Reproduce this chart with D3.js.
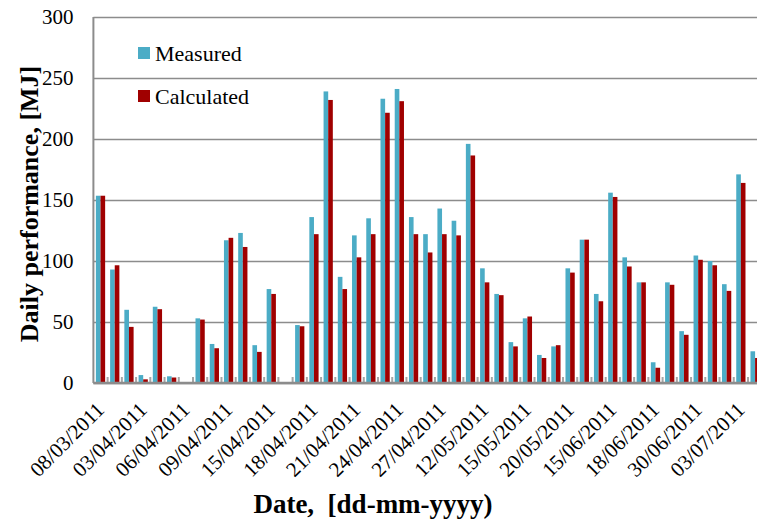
<!DOCTYPE html>
<html>
<head>
<meta charset="utf-8">
<script src="https://cdn.jsdelivr.net/npm/d3@7"></script>
<style>
  body { margin: 0; background: #fff; }
  text { font-family: "Liberation Serif", "Times New Roman", serif; fill: #000; }
</style>
</head>
<body>
<div id="chart"></div>
<script>
var measured = [153.5, 93, 60, 6.5, 62.5, 5.5, 0, 53, 32, 117, 123, 31, 77, 0, 47.5, 136, 239, 87, 121, 135, 233, 241, 136, 122, 143, 133, 196, 94, 73, 33.5, 53, 23, 30, 94, 117.5, 73, 156, 103, 82.5, 17, 82.5, 42.5, 104.5, 100, 81, 171, 26];
var calculated = [153.5, 96.5, 46, 3, 60.5, 4.5, 0, 52, 28.5, 119, 111.5, 25.5, 73, 0, 46.5, 122, 232, 77, 103, 122, 221.5, 231, 122, 107, 122, 121, 186.5, 82.5, 72, 30, 54.5, 20.5, 31, 90.5, 117.5, 67, 152.5, 95.5, 82.5, 12.5, 80.5, 39.5, 101, 96.5, 75.5, 164, 20.5];
// only every third day carries a label
var dateLabels = ["08/03/2011", "03/04/2011", "06/04/2011", "09/04/2011", "15/04/2011", "18/04/2011", "21/04/2011", "24/04/2011", "27/04/2011", "12/05/2011", "15/05/2011", "20/05/2011", "15/06/2011", "18/06/2011", "30/06/2011", "03/07/2011"];
var yTicks = [0, 50, 100, 150, 200, 250, 300];
var seriesNames = ["Measured", "Calculated"];
var seriesColors = ["#4BACC6", "#A00000"];

var W = 757, H = 521;
var plotLeft = 93.4, plotTop = 17, plotBottom = 383;
var step = 14.23;
var n = measured.length;
var serif = "Liberation Serif, Times New Roman, serif";

var svg = d3.select("#chart").append("svg").attr("width", W).attr("height", H);

// scales
var x = d3.scaleBand().domain(d3.range(n))
    .range([plotLeft, plotLeft + n * step])
    .paddingInner(0.35).paddingOuter(0.175);
var xSub = d3.scaleBand().domain([0, 1]).range([0, x.bandwidth()]);
var y = d3.scaleLinear().domain([0, 300]).range([plotBottom, plotTop]);

// gridlines + y labels
var yAxis = d3.axisLeft(y).tickValues(yTicks).tickSize(-(W - plotLeft)).tickPadding(20);
var gy = svg.append("g").attr("transform", "translate(" + plotLeft + ",0)").call(yAxis);
gy.attr("font-family", serif);
gy.select(".domain").remove();
gy.selectAll(".tick line").attr("stroke", "#8c8c8c").attr("stroke-width", 1.6);
gy.selectAll(".tick text").attr("font-size", 21).attr("fill", "#000");

// bars
var rows = measured.map(function (m, i) { return [m, calculated[i]]; });
var groups = svg.append("g").selectAll("g")
    .data(rows)
    .enter()
    .append("g")
    .attr("transform", function (d, i) { return "translate(" + x(i) + ",0)"; });
groups.selectAll("rect")
    .data(function (d) { return d; })
    .enter()
    .append("rect")
    .attr("x", function (d, j) { return xSub(j); })
    .attr("y", function (d) { return y(d); })
    .attr("width", xSub.bandwidth())
    .attr("height", function (d) { return y(0) - y(d); })
    .attr("fill", function (d, j) { return seriesColors[j]; });

// small tick marks between the days
var bounds = d3.range(1, n + 1).map(function (i) { return x(i - 1) + x.bandwidth() + x.step() * 0.175; });
svg.append("g").selectAll("line")
    .data(bounds)
    .enter()
    .append("line")
    .attr("x1", function (d) { return d; })
    .attr("x2", function (d) { return d; })
    .attr("y1", plotBottom)
    .attr("y2", plotBottom - 6)
    .attr("stroke", "#a6a6a6")
    .attr("stroke-width", 2);

// axis lines
svg.append("line").attr("x1", plotLeft).attr("x2", plotLeft).attr("y1", plotTop).attr("y2", plotBottom)
    .attr("stroke", "#8c8c8c").attr("stroke-width", 2);
svg.append("line").attr("x1", plotLeft).attr("x2", W).attr("y1", plotBottom).attr("y2", plotBottom)
    .attr("stroke", "#8c8c8c").attr("stroke-width", 2.5);

// rotated date labels
svg.append("g").selectAll("text")
    .data(dateLabels)
    .enter()
    .append("text")
    .attr("transform", function (d, k) {
        var cx = x(k * 3) + x.bandwidth() / 2;
        return "translate(" + (cx + 5) + ",411) rotate(-45)";
    })
    .attr("text-anchor", "end")
    .attr("font-family", serif)
    .attr("font-size", 21)
    .text(function (d) { return d; });

// axis titles
svg.append("text")
    .attr("transform", "translate(38,204) rotate(-90)")
    .attr("text-anchor", "middle")
    .attr("font-family", serif)
    .attr("font-size", 26)
    .attr("font-weight", "bold")
    .text("Daily performance, [MJ]");
svg.append("text")
    .attr("x", 373)
    .attr("y", 513)
    .attr("text-anchor", "middle")
    .attr("font-family", serif)
    .attr("font-size", 27)
    .attr("font-weight", "bold")
    .style("white-space", "pre")
    .text("Date,  [dd-mm-yyyy)");

// legend
var legend = svg.append("g").selectAll("g")
    .data(seriesNames)
    .enter()
    .append("g")
    .attr("transform", function (d, i) { return "translate(138," + (47 + i * 43) + ")"; });
legend.append("rect").attr("width", 12).attr("height", 12)
    .attr("fill", function (d, i) { return seriesColors[i]; });
legend.append("text").attr("x", 17).attr("y", 14)
    .attr("font-family", serif)
    .attr("font-size", 22)
    .text(function (d) { return d; });
</script>
</body>
</html>
